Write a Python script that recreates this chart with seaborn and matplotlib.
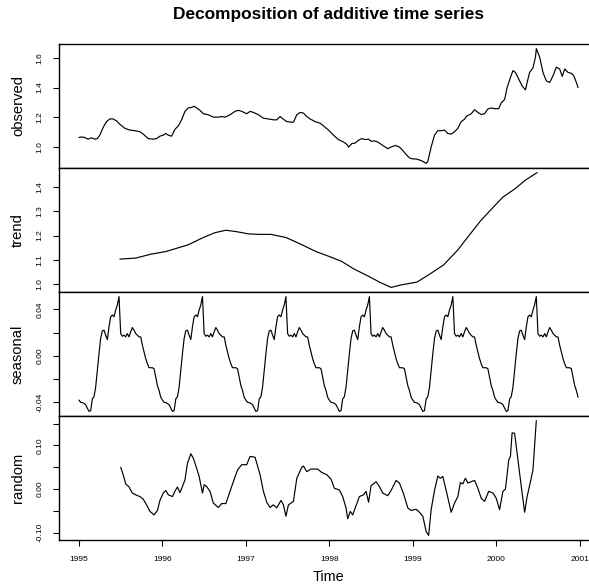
import matplotlib
matplotlib.use('Agg')
import matplotlib.pyplot as plt
import seaborn as sns
import numpy as np
import pandas as pd

# observed series
obs_time = [1995.00, 1995.03, 1995.07, 1995.11, 1995.15, 1995.19, 1995.22, 1995.25, 1995.29, 1995.33,
            1995.37, 1995.41, 1995.45, 1995.49, 1995.55, 1995.61, 1995.67, 1995.73, 1995.77, 1995.83,
            1995.89, 1995.93, 1995.97, 1996.01, 1996.04, 1996.07, 1996.11, 1996.15, 1996.19, 1996.23,
            1996.27, 1996.31, 1996.35, 1996.38, 1996.41, 1996.45, 1996.49, 1996.55, 1996.61, 1996.67,
            1996.71, 1996.75, 1996.81, 1996.87, 1996.91, 1996.95, 1997.01, 1997.05, 1997.09, 1997.15,
            1997.21, 1997.27, 1997.33, 1997.37, 1997.41, 1997.45, 1997.49, 1997.55, 1997.57, 1997.61,
            1997.65, 1997.69, 1997.73, 1997.77, 1997.83, 1997.89, 1997.93, 1997.99, 1998.05, 1998.11,
            1998.17, 1998.21, 1998.23, 1998.27, 1998.31, 1998.35, 1998.39, 1998.43, 1998.47, 1998.50,
            1998.54, 1998.58, 1998.64, 1998.70, 1998.74, 1998.79, 1998.84, 1998.88, 1998.92, 1998.96,
            1999.00, 1999.04, 1999.08, 1999.12, 1999.16, 1999.18, 1999.22, 1999.26, 1999.30, 1999.34,
            1999.38, 1999.42, 1999.46, 1999.50, 1999.54, 1999.58, 1999.62, 1999.65, 1999.70, 1999.74,
            1999.78, 1999.82, 1999.86, 1999.90, 1999.94, 1999.98, 2000.03, 2000.06, 2000.10, 2000.13,
            2000.17, 2000.20, 2000.23, 2000.27, 2000.31, 2000.35, 2000.37, 2000.40, 2000.44, 2000.47,
            2000.48, 2000.52, 2000.56, 2000.60, 2000.64, 2000.68, 2000.72, 2000.76, 2000.79, 2000.82,
            2000.86, 2000.90, 2000.93, 2000.96, 2000.98]
obs_value = [1.064, 1.068, 1.064, 1.053, 1.062, 1.053, 1.057, 1.080, 1.132, 1.171,
             1.189, 1.189, 1.176, 1.153, 1.126, 1.114, 1.110, 1.103, 1.087, 1.057,
             1.053, 1.057, 1.073, 1.080, 1.091, 1.080, 1.073, 1.119, 1.142, 1.183,
             1.240, 1.263, 1.267, 1.274, 1.263, 1.247, 1.224, 1.217, 1.201, 1.201,
             1.205, 1.201, 1.217, 1.240, 1.247, 1.240, 1.224, 1.240, 1.233, 1.217,
             1.194, 1.189, 1.183, 1.183, 1.205, 1.187, 1.171, 1.167, 1.167, 1.217,
             1.233, 1.228, 1.205, 1.189, 1.171, 1.160, 1.142, 1.114, 1.080, 1.050,
             1.034, 1.018, 1.000, 1.023, 1.027, 1.046, 1.057, 1.050, 1.053, 1.039,
             1.041, 1.034, 1.011, 0.989, 1.000, 1.011, 1.000, 0.977, 0.950, 0.927,
             0.920, 0.920, 0.913, 0.904, 0.890, 0.904, 1.000, 1.080, 1.110, 1.110,
             1.114, 1.091, 1.087, 1.103, 1.126, 1.171, 1.187, 1.210, 1.224, 1.251,
             1.233, 1.219, 1.224, 1.256, 1.263, 1.258, 1.258, 1.297, 1.320, 1.399,
             1.468, 1.514, 1.502, 1.457, 1.411, 1.384, 1.434, 1.502, 1.532, 1.605,
             1.662, 1.605, 1.502, 1.445, 1.434, 1.479, 1.537, 1.525, 1.475, 1.525,
             1.502, 1.495, 1.479, 1.434, 1.400]

# trend (centred moving average)
trend_time = [1995.49, 1995.68, 1995.86, 1996.04, 1996.31, 1996.49, 1996.63, 1996.76, 1996.89, 1997.03,
              1997.16, 1997.30, 1997.48, 1997.66, 1997.84, 1998.02, 1998.15, 1998.29, 1998.47, 1998.60,
              1998.74, 1998.87, 1999.05, 1999.19, 1999.37, 1999.54, 1999.68, 1999.81, 1999.95, 2000.08,
              2000.22, 2000.35, 2000.49]
trend_value = [1.103, 1.107, 1.123, 1.134, 1.162, 1.192, 1.212, 1.222, 1.216, 1.207,
               1.205, 1.205, 1.192, 1.164, 1.134, 1.111, 1.093, 1.063, 1.032, 1.008,
               0.986, 0.997, 1.008, 1.038, 1.079, 1.141, 1.203, 1.260, 1.312, 1.359,
               1.392, 1.429, 1.460]

# one year of the seasonal figure, 50 steps per year, repeated for 6 years
seasonal_cycle = [-0.0383, -0.0403, -0.0405, -0.0412, -0.0423, -0.0452, -0.0481, -0.0475, -0.0374, -0.0354,
                  -0.0272, -0.0128, 0.0017, 0.0148, 0.0214, 0.0220, 0.0177, 0.0139, 0.0249, 0.0336,
                  0.0351, 0.0336, 0.0394, 0.0438, 0.0510, 0.0191, 0.0168, 0.0177, 0.0162, 0.0191,
                  0.0162, 0.0206, 0.0243, 0.0220, 0.0191, 0.0177, 0.0162, 0.0162, 0.0090, 0.0032,
                  -0.0026, -0.0070, -0.0104, -0.0104, -0.0104, -0.0113, -0.0186, -0.0258, -0.0301, -0.0359]
n_years = 6
start_year = 1995

# remainder
rand_time = [1995.50, 1995.53, 1995.56, 1995.60, 1995.64, 1995.69, 1995.73, 1995.77, 1995.81, 1995.85,
             1995.90, 1995.94, 1995.97, 1996.01, 1996.04, 1996.07, 1996.12, 1996.15, 1996.18, 1996.21,
             1996.24, 1996.27, 1996.30, 1996.34, 1996.37, 1996.41, 1996.44, 1996.48, 1996.50, 1996.53,
             1996.57, 1996.61, 1996.67, 1996.71, 1996.76, 1996.81, 1996.85, 1996.90, 1996.95, 1997.01,
             1997.05, 1997.11, 1997.17, 1997.21, 1997.25, 1997.29, 1997.33, 1997.37, 1997.42, 1997.45,
             1997.48, 1997.51, 1997.57, 1997.61, 1997.67, 1997.69, 1997.73, 1997.78, 1997.82, 1997.86,
             1997.91, 1997.97, 1998.02, 1998.06, 1998.12, 1998.16, 1998.20, 1998.22, 1998.25, 1998.28,
             1998.32, 1998.36, 1998.41, 1998.44, 1998.47, 1998.50, 1998.56, 1998.60, 1998.64, 1998.70,
             1998.74, 1998.80, 1998.84, 1998.89, 1998.94, 1998.98, 1999.04, 1999.08, 1999.12, 1999.16,
             1999.19, 1999.22, 1999.26, 1999.30, 1999.33, 1999.36, 1999.40, 1999.46, 1999.50, 1999.54,
             1999.57, 1999.60, 1999.63, 1999.66, 1999.70, 1999.74, 1999.78, 1999.82, 1999.86, 1999.91,
             1999.96, 2000.00, 2000.04, 2000.08, 2000.11, 2000.15, 2000.17, 2000.19, 2000.22, 2000.26,
             2000.30, 2000.34, 2000.37, 2000.41, 2000.44, 2000.48]
rand_value = [0.050, 0.033, 0.012, 0.005, -0.009, -0.014, -0.017, -0.023, -0.036, -0.051,
              -0.059, -0.049, -0.026, -0.009, -0.003, -0.013, -0.017, -0.005, 0.005, -0.008,
              0.006, 0.021, 0.059, 0.081, 0.071, 0.048, 0.029, -0.009, 0.010, 0.006,
              -0.005, -0.032, -0.042, -0.033, -0.033, -0.005, 0.017, 0.044, 0.056, 0.056,
              0.075, 0.073, 0.033, -0.005, -0.030, -0.042, -0.036, -0.043, -0.026, -0.036,
              -0.062, -0.036, -0.028, 0.025, 0.050, 0.053, 0.040, 0.046, 0.046, 0.046,
              0.038, 0.033, 0.023, 0.002, -0.002, -0.017, -0.043, -0.068, -0.051, -0.059,
              -0.038, -0.017, -0.013, -0.005, -0.030, 0.008, 0.017, 0.006, -0.009, -0.015,
              -0.003, 0.020, 0.014, -0.011, -0.043, -0.049, -0.046, -0.053, -0.062, -0.097,
              -0.106, -0.047, -0.003, 0.030, 0.025, 0.029, -0.003, -0.053, -0.032, -0.017,
              0.015, 0.012, 0.025, 0.014, 0.017, 0.020, 0.002, -0.021, -0.028, -0.005,
              -0.009, -0.021, -0.047, -0.005, 0.000, 0.067, 0.075, 0.129, 0.128, 0.067,
              0.006, -0.053, -0.017, 0.017, 0.044, 0.157]

sns.set_theme(style="ticks")
plt.rcParams['font.family'] = ['Liberation Sans', 'DejaVu Sans']

steps = len(seasonal_cycle)
seas_time = start_year + np.arange(steps * n_years) / steps
seas_value = np.tile(seasonal_cycle, n_years)

panels = [
    ("observed", pd.DataFrame({"t": obs_time, "v": obs_value}),
     [1.0, 1.2, 1.4, 1.6], ["1.0", "1.2", "1.4", "1.6"]),
    ("trend", pd.DataFrame({"t": trend_time, "v": trend_value}),
     [1.0, 1.1, 1.2, 1.3, 1.4], ["1.0", "1.1", "1.2", "1.3", "1.4"]),
    ("seasonal", pd.DataFrame({"t": seas_time, "v": seas_value}),
     [-0.04, -0.02, 0.0, 0.02, 0.04], ["-0.04", "", "0.00", "", "0.04"]),
    ("random", pd.DataFrame({"t": rand_time, "v": rand_value}),
     [-0.10, -0.05, 0.0, 0.05, 0.10, 0.15], ["-0.10", "", "0.00", "", "0.10", ""]),
]

W, H = 589, 588
fig = plt.figure(figsize=(W / 100, H / 100), dpi=100)
left_px, right_px = 59, 598
top_px, panel_px = 44, 124

axes = []
for i, (name, df, yt, ylab) in enumerate(panels):
    bottom_px = top_px + (i + 1) * panel_px
    rect = [left_px / W, 1 - bottom_px / H, (right_px - left_px) / W, panel_px / H]
    ax = fig.add_axes(rect, sharex=axes[0] if axes else None)
    sns.lineplot(data=df, x="t", y="v", ax=ax, color="black", linewidth=0.85,
                 estimator=None, sort=False)
    ax.margins(x=0.04, y=0.04)
    ax.set_facecolor("white")
    for s in ax.spines.values():
        s.set_color("black")
        s.set_linewidth(1.0)
    ax.set_yticks(yt)
    ax.set_yticklabels(ylab, rotation=90, va="center")
    ax.tick_params(axis="y", direction="out", length=4, width=0.8, pad=7,
                   labelsize=6, colors="black")
    ax.set_ylabel(name, fontsize=10.6, color="black")
    ax.yaxis.label.set_verticalalignment("center")
    ax.yaxis.set_label_coords((18 - left_px) / (right_px - left_px), 0.5)
    ax.set_xlabel("")
    if i < 3:
        ax.tick_params(axis="x", bottom=False, labelbottom=False)
    axes.append(ax)

axb = axes[-1]
axb.set_xticks([1995, 1996, 1997, 1998, 1999, 2000, 2001])
axb.set_xticklabels(["1995", "1996", "1997", "1998", "1999", "2000", "2001"])
axb.tick_params(axis="x", direction="out", length=4.5, width=0.8, pad=7,
                labelsize=6, colors="black")

cx = (left_px + right_px) / 2 / W
fig.text(cx, 1 - 14 / H, "Decomposition of additive time series", ha="center", va="center",
         fontsize=12.4, fontweight="bold", color="black")
fig.text(cx, 1 - 577 / H, "Time", ha="center", va="center", fontsize=10.4, color="black")

fig.savefig("out.png", dpi=100, facecolor="white")
